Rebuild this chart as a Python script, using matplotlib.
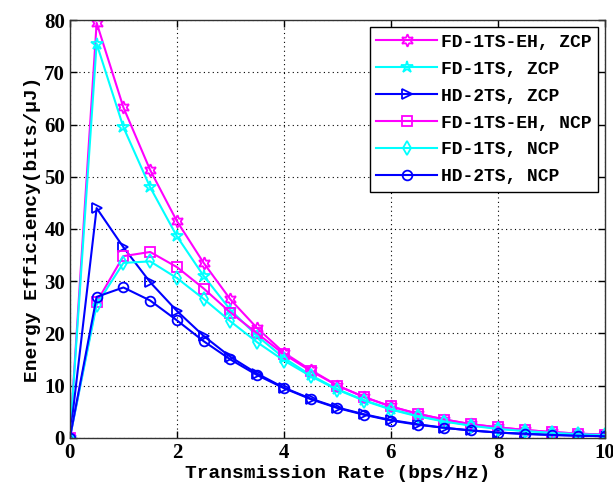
import matplotlib
matplotlib.use('Agg')
import matplotlib.pyplot as plt
import numpy as np

# data
rate = np.arange(0, 10.5, 0.5)
fd_eh_zcp = [0, 79.5, 63.3, 51.3, 41.5, 33.5, 26.5, 21.0, 16.3, 13.0, 10.0,
             7.8, 6.0, 4.6, 3.5, 2.6, 2.0, 1.5, 1.1, 0.8, 0.6]
fd_zcp = [0, 75.5, 59.5, 48.0, 38.6, 31.0, 24.5, 19.5, 15.3, 12.0, 9.3,
          7.2, 5.5, 4.2, 3.2, 2.4, 1.8, 1.3, 1.0, 0.7, 0.5]
hd_zcp = [0, 44.0, 36.5, 29.8, 24.3, 19.5, 15.5, 12.3, 9.6, 7.5, 5.8,
          4.5, 3.4, 2.6, 1.9, 1.4, 1.0, 0.75, 0.55, 0.4, 0.3]
fd_eh_ncp = [0, 26.0, 34.8, 35.6, 32.7, 28.6, 24.0, 20.0, 16.0, 12.8, 10.0,
             7.8, 6.0, 4.6, 3.5, 2.6, 2.0, 1.5, 1.1, 0.8, 0.6]
fd_ncp = [0, 25.5, 33.5, 33.8, 30.6, 26.6, 22.3, 18.3, 14.8, 11.8, 9.2,
          7.1, 5.4, 4.1, 3.1, 2.3, 1.7, 1.3, 0.95, 0.7, 0.5]
hd_ncp = [0, 27.0, 28.8, 26.3, 22.5, 18.5, 15.0, 12.0, 9.5, 7.4, 5.7,
          4.4, 3.3, 2.5, 1.9, 1.4, 1.0, 0.75, 0.55, 0.4, 0.3]

labels = ['FD-1TS-EH, ZCP', 'FD-1TS, ZCP', 'HD-2TS, ZCP',
          'FD-1TS-EH, NCP', 'FD-1TS, NCP', 'HD-2TS, NCP']
series = [fd_eh_zcp, fd_zcp, hd_zcp, fd_eh_ncp, fd_ncp, hd_ncp]
colors = ['#ff00ff', '#00ffff', '#0000ff', '#ff00ff', '#00ffff', '#0000ff']
markers = [(6, 1, 0), '*', '>', 's', 'd', 'o']  # (6,1,0) = hexagram

fig = plt.figure(figsize=(6.13, 4.93), dpi=100)
ax = fig.add_axes([0.114, 0.112, 0.873, 0.847])

for y, lab, c, m in zip(series, labels, colors, markers):
    ms = 9 if m in ('*', (6, 1, 0)) else 7
    ax.plot(rate, y, color=c, marker=m, markersize=ms, markerfacecolor='none',
            markeredgecolor=c, markeredgewidth=1.3, linewidth=1.5, label=lab)

ax.set_xlim(0, 10)
ax.set_ylim(0, 80)
ax.set_xticks(np.arange(0, 11, 2))
ax.set_yticks(np.arange(0, 81, 10))
ax.grid(True, linestyle=(0, (1, 3)), color='black', linewidth=0.8)
ax.tick_params(direction='in', top=True, right=True, length=5, width=1)
for lb in ax.get_xticklabels() + ax.get_yticklabels():
    lb.set_fontfamily('Liberation Serif')
    lb.set_fontsize(15)
    lb.set_fontweight('bold')
for sp in ax.spines.values():
    sp.set_linewidth(1)
    sp.set_color('#333333')

ax.set_xlabel('Transmission Rate (bps/Hz)', family='Liberation Mono', fontsize=14,
              fontweight='bold', labelpad=2)
ax.set_ylabel('Energy Efficiency(bits/μJ)', family='Liberation Mono', fontsize=14,
              fontweight='bold', labelpad=2)

leg = ax.legend(loc='upper right',
                prop={'family': 'Liberation Mono', 'size': 13, 'weight': 'bold'},
                fancybox=False, framealpha=1, edgecolor='black', handlelength=3.4,
                borderpad=0.35, labelspacing=0.55, handletextpad=0.2,
                borderaxespad=0.4)
leg.get_frame().set_linewidth(1)

fig.savefig('out.png', dpi=100)
